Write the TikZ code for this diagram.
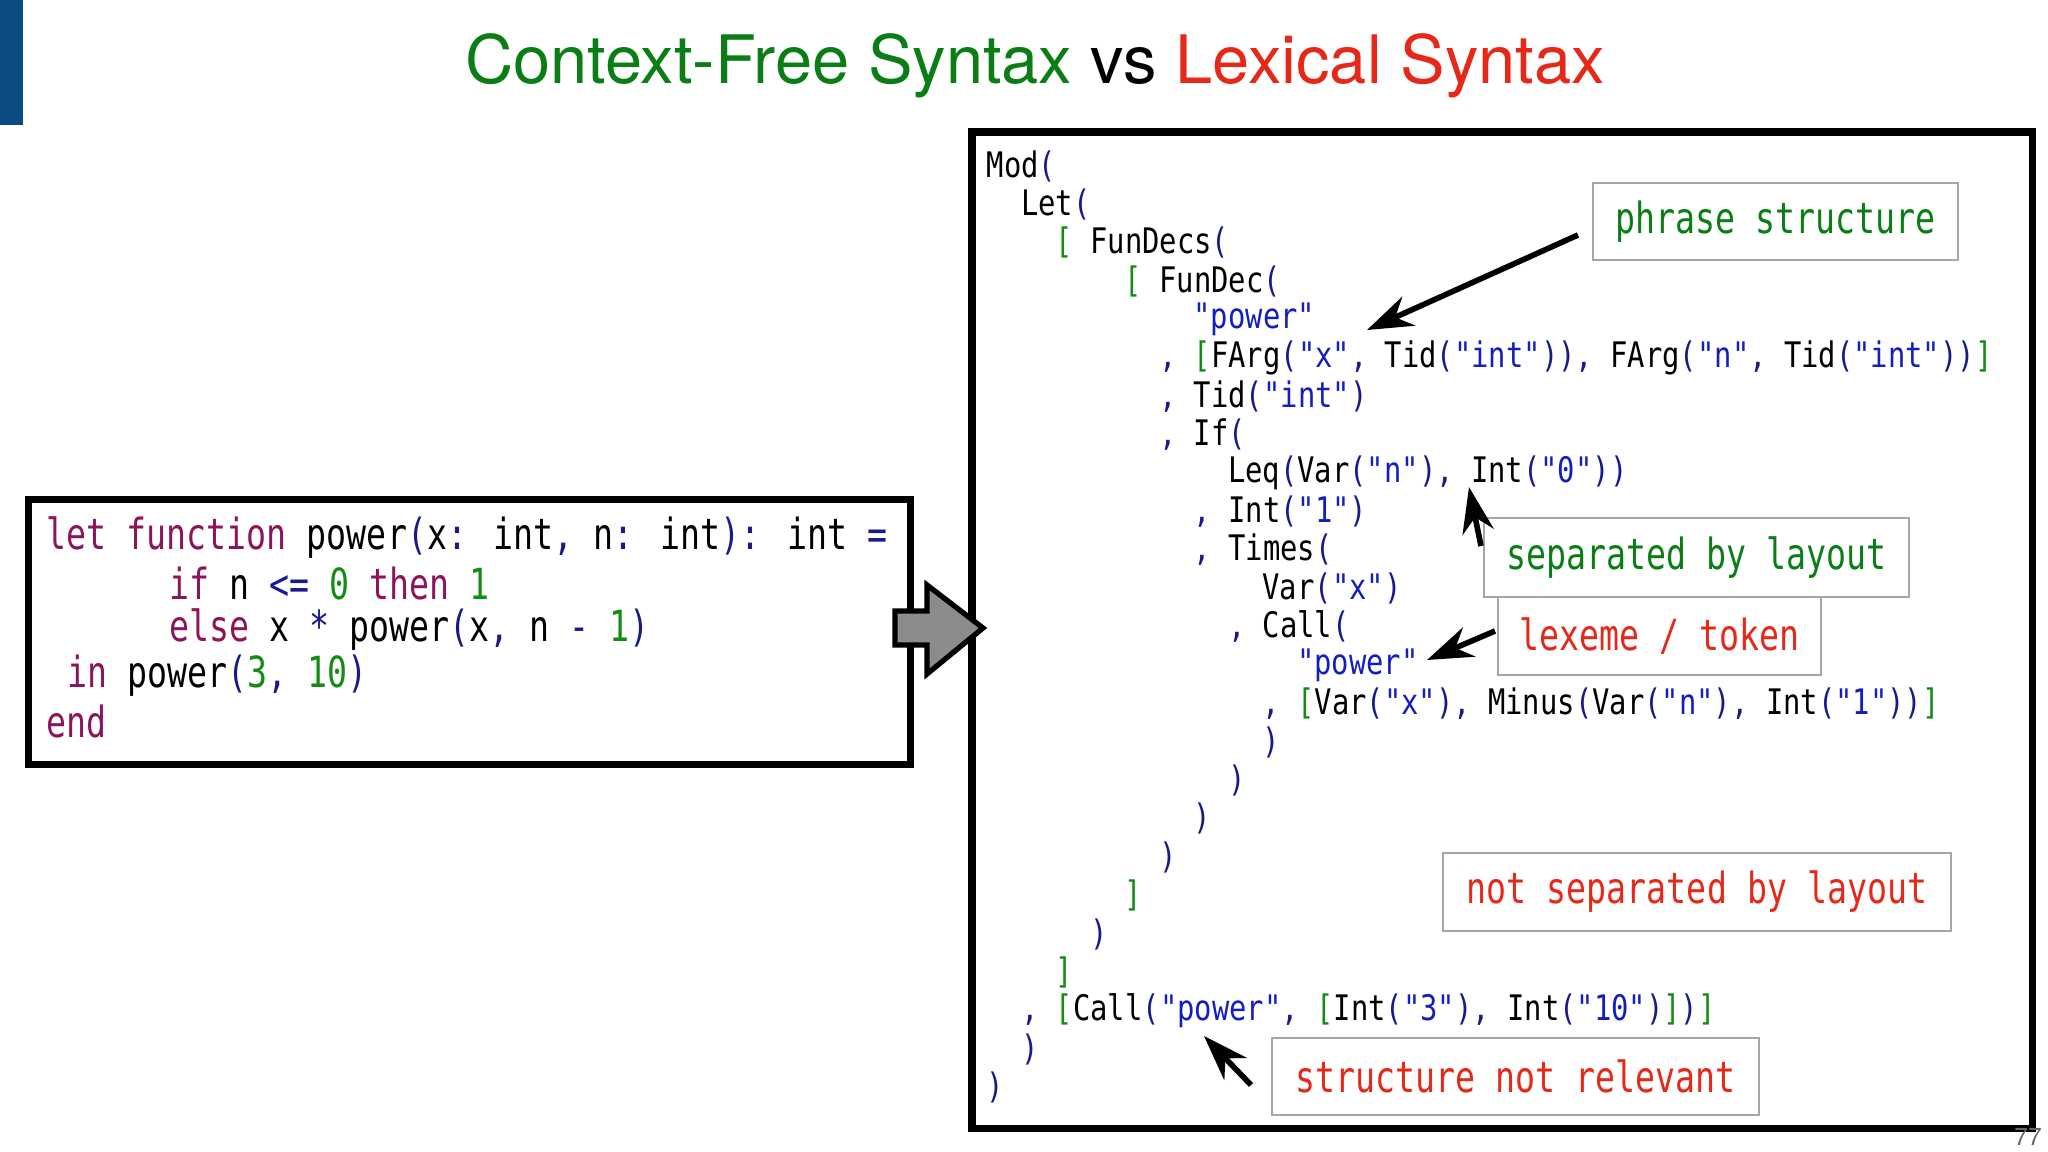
\documentclass[tikz,border=0pt]{standalone}
\usepackage{fontspec}
\usetikzlibrary{arrows.meta}
\setmainfont{TeX Gyre Heros}
\newfontfamily\codefont[FakeStretch=0.82]{DejaVu Sans Mono}
\newfontfamily\bigcodefont[FakeStretch=0.775]{DejaVu Sans Mono}
\definecolor{cnavy}{RGB}{25,25,140}
\definecolor{cstr}{RGB}{20,30,190}
\definecolor{cbrk}{RGB}{20,140,20}
\definecolor{ckw}{RGB}{140,20,90}
\definecolor{tgreen}{RGB}{10,125,20}
\definecolor{tred}{RGB}{230,40,25}
\definecolor{barblue}{RGB}{10,75,130}
\newcommand\pp[1]{\textcolor{cnavy}{#1}}
\newcommand\sq[1]{\textcolor{cstr}{#1}}
\newcommand\bb[1]{\textcolor{cbrk}{#1}}
\newcommand\kw[1]{\textcolor{ckw}{#1}}
\newcommand\nn[1]{\textcolor{cbrk}{#1}}
\newcommand\astl[3]{\node[code] (r#2) at ({986+#1*17.24},{166+(#2-1)*38.4}) {#3};}
\newcommand\srcl[3]{\node[scode] (s#2) at ({46+#1*20.45},{538+(#2-1)*45.8}) {#3};}
\tikzset{
  code/.style={anchor=west,inner sep=0pt,font=\codefont\fontsize{10}{12}\selectfont},
  scode/.style={anchor=west,inner sep=0pt,font=\bigcodefont\fontsize{12.2}{14}\selectfont},
  lbl/.style={draw=black!35,line width=0.5pt,inner sep=0pt,font=\bigcodefont\fontsize{12.2}{14}\selectfont},
  ptr/.style={line width=1.6pt,-{Stealth[length=13pt,width=9pt]}}
}
\begin{document}
\begin{tikzpicture}[x=0.01cm,y=-0.01cm]
\useasboundingbox (0,0) rectangle (2048,1152);
\fill[barblue] (0,0) rectangle (23,125);
\node[font=\fontsize{19}{23}\selectfont] (title) at (1035,66) {\textcolor{tgreen}{Context-Free Syntax} vs \textcolor{tred}{Lexical Syntax}};
% left box
\node[draw,line width=2pt,minimum width=88.1mm,minimum height=26.5mm,anchor=north west,inner sep=0pt] (src) at (25,496) {};
\srcl{0}{1}{\kw{let} \kw{function} power\pp{(}x\pp{:} int\pp{,} n\pp{:} int\pp{):} int \pp{=}}
\srcl{6}{2}{\kw{if} n \pp{<=} \nn{0} \kw{then} \nn{1}}
\srcl{6}{3}{\kw{else} x \pp{*} power\pp{(}x\pp{,} n \pp{-} \nn{1}\pp{)}}
\srcl{1}{4}{\kw{in} power\pp{(}\nn{3}\pp{,} \nn{10}\pp{)}}
\srcl{0}{5}{\kw{end}}
% right box
\node[draw,line width=2.2pt,minimum width=106mm,minimum height=99.6mm,anchor=north west,inner sep=0pt] (ast) at (968,128) {};
% block arrow
\draw[fill=black!45,line width=1.5pt] (895,611) -- (927,611) -- (927,585) -- (983,628) -- (927,674) -- (927,645) -- (895,645) -- cycle;
% AST
\astl{0}{1}{Mod\pp{(}}
\astl{2}{2}{Let\pp{(}}
\astl{4}{3}{\bb{[} FunDecs\pp{(}}
\astl{8}{4}{\bb{[} FunDec\pp{(}}
\astl{12}{5}{\sq{"power"}}
\astl{10}{6}{\pp{,} \bb{[}FArg\pp{(}\sq{"x"}\pp{,} Tid\pp{(}\sq{"int"}\pp{))}\pp{,} FArg\pp{(}\sq{"n"}\pp{,} Tid\pp{(}\sq{"int"}\pp{))}\bb{]}}
\astl{10}{7}{\pp{,} Tid\pp{(}\sq{"int"}\pp{)}}
\astl{10}{8}{\pp{,} If\pp{(}}
\astl{14}{9}{Leq\pp{(}Var\pp{(}\sq{"n"}\pp{),} Int\pp{(}\sq{"0"}\pp{))}}
\astl{12}{10}{\pp{,} Int\pp{(}\sq{"1"}\pp{)}}
\astl{12}{11}{\pp{,} Times\pp{(}}
\astl{16}{12}{Var\pp{(}\sq{"x"}\pp{)}}
\astl{14}{13}{\pp{,} Call\pp{(}}
\astl{18}{14}{\sq{"power"}}
\astl{16}{15}{\pp{,} \bb{[}Var\pp{(}\sq{"x"}\pp{),} Minus\pp{(}Var\pp{(}\sq{"n"}\pp{),} Int\pp{(}\sq{"1"}\pp{))}\bb{]}}
\astl{16}{16}{\pp{)}}
\astl{14}{17}{\pp{)}}
\astl{12}{18}{\pp{)}}
\astl{10}{19}{\pp{)}}
\astl{8}{20}{\bb{]}}
\astl{6}{21}{\pp{)}}
\astl{4}{22}{\bb{]}}
\astl{2}{23}{\pp{,} \bb{[}Call\pp{(}\sq{"power"}\pp{,} \bb{[}Int\pp{(}\sq{"3"}\pp{),} Int\pp{(}\sq{"10"}\pp{)}\bb{]}\pp{)}\bb{]}}
\astl{2}{24}{\pp{)}}
\astl{0}{25}{\pp{)}}
% labels
\node[lbl,minimum width=36.5mm,minimum height=7.7mm] (phr) at (1775.5,221.5) {\textcolor{tgreen}{phrase structure}};
\node[lbl,minimum width=42.5mm,minimum height=7.9mm] (sep) at (1696.5,557.5) {\textcolor{tgreen}{separated by layout}};
\node[lbl,minimum width=32.3mm,minimum height=7.8mm] (lex) at (1659.5,636) {\textcolor{tred}{lexeme / token}};
\node[lbl,minimum width=50.8mm,minimum height=7.8mm] (nsep) at (1697,892) {\textcolor{tred}{not separated by layout}};
\node[lbl,minimum width=48.7mm,minimum height=7.7mm] (snr) at (1515.5,1076.5) {\textcolor{tred}{structure not relevant}};
\coordinate (tphr) at (1367,330);
\coordinate (tsep) at (1469,487);
\coordinate (tlex) at (1427,660);
\coordinate (tsnr) at (1204,1036);
\coordinate (fphr) at (1578,235);
\coordinate (fsep) at (1481,546);
\coordinate (flex) at (1495,631);
\coordinate (fsnr) at (1251,1085);
\draw[ptr] (fphr) -- (tphr);
\draw[ptr] (fsep) -- (tsep);
\draw[ptr] (flex) -- (tlex);
\draw[ptr] (fsnr) -- (tsnr);
\node[font=\fontsize{7}{8}\selectfont,text=black!60,anchor=south east,inner sep=1pt] (pg) at (2046,1150) {77};
\end{tikzpicture}
\end{document}
